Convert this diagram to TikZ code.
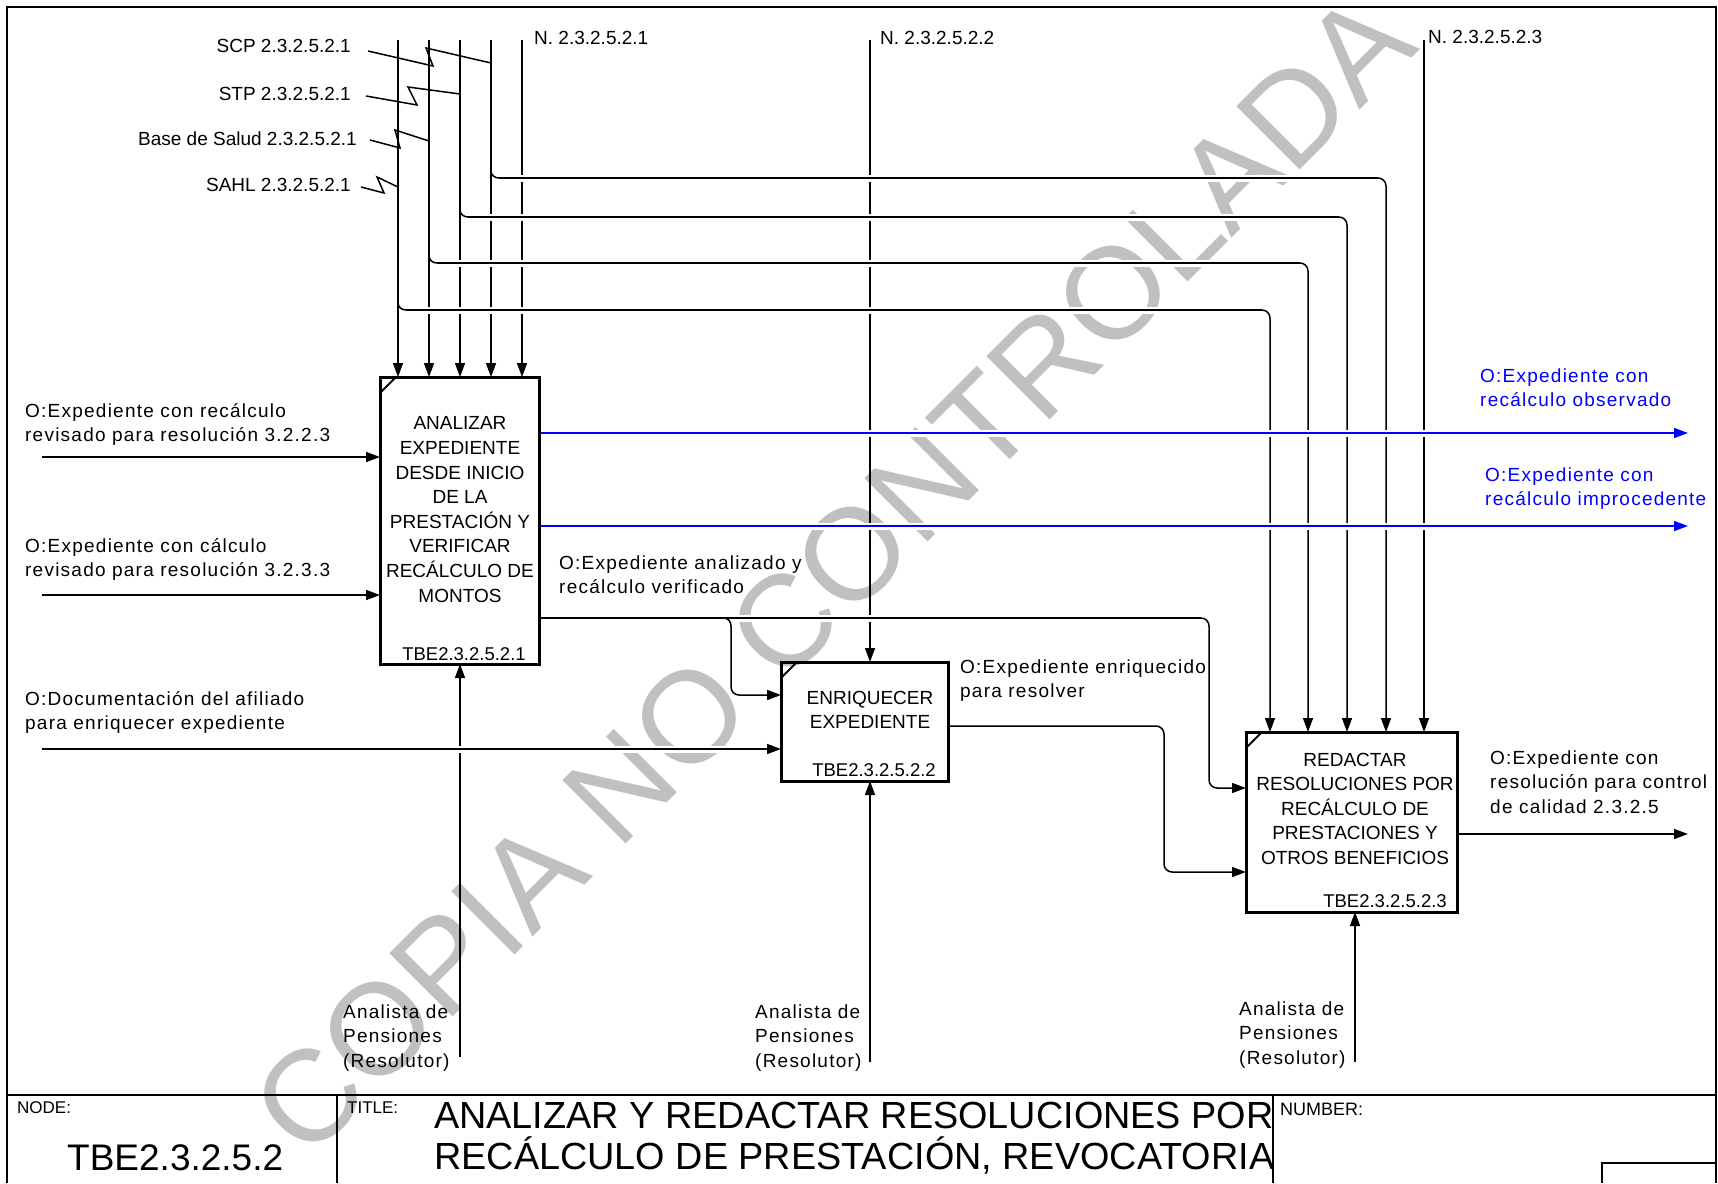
\documentclass[tikz,border=0pt]{standalone}
\usepackage{fontspec}
\setmainfont{Liberation Sans}
\newfontfamily\labfont[LetterSpace=6.5]{Liberation Sans}
\usetikzlibrary{arrows.meta}
\definecolor{wmgray}{RGB}{192,192,192}
\definecolor{idefblue}{RGB}{0,0,255}
\begin{document}
\begin{tikzpicture}[x=1pt,y=-1pt,
  ln/.style={line width=1.5pt},
  arr/.style={line width=1.5pt,-{Triangle[length=14pt,width=10pt]}},
  over/.style={preaction={draw=white,line width=7pt,-}},
  boxshape/.style={rectangle,inner sep=0pt,outer sep=0pt},
  boxline/.style={line width=3pt},
  cornermark/.style={line width=2pt},
  lbl/.style={font=\labfont\fontsize{19}{24.5}\selectfont,inner sep=0pt,align=left,anchor=base west},
  toplbl/.style={font=\fontsize{19}{24.5}\selectfont,inner sep=0pt,anchor=base west},
  toplblr/.style={font=\fontsize{19}{24.5}\selectfont,inner sep=0pt,anchor=base east},
  boxtxt/.style={font=\fontsize{19}{24.6}\selectfont,inner sep=0pt,align=center,anchor=base},
  idtxt/.style={font=\fontsize{18.5}{22}\selectfont,inner sep=0pt,anchor=base},
  wmark/.style={font=\fontsize{130}{130}\selectfont,text=wmgray,inner sep=0pt,rotate=45,anchor=base},
  frameline/.style={line width=2pt},
]
\useasboundingbox (0,0) rectangle (1718,1183);

% watermark
\node[wmark] (wm) at (864,606) {COPIA NO CONTROLADA};

% process boxes (outline drawn at the end)
\node[boxshape,minimum width=159pt,minimum height=287pt] (b1) at (459.5,520.5) {};
\node[boxshape,minimum width=167pt,minimum height=119pt] (b2) at (864.5,721.5) {};
\node[boxshape,minimum width=211pt,minimum height=180pt] (b3) at (1351.5,822) {};

% control lines from top
\coordinate (t1) at (398,40);
\coordinate (t2) at (429,40);
\coordinate (t3) at (460,40);
\coordinate (t4) at (491,40);
\coordinate (t5) at (522,40);
\coordinate (t6) at (870,40);
\coordinate (t7) at (1424,40);
\foreach \c in {t1,t2,t3,t4,t5} \draw[arr] (\c) -- (\c |- b1.north);
\draw[arr] (t6) -- (t6 |- b2.north);
\draw[arr] (t7) -- (t7 |- b3.north);

% branches to box 3
\coordinate (h4a) at (491,171); \coordinate (h4b) at (499,178);
\coordinate (h4c) at (1378,178); \coordinate (h4d) at (1386,186);
\draw[ln] (h4a) to[out=-90,in=180] (h4b);
\draw[ln,over] (h4b) -- (h4c);
\draw[arr] (h4c) to[out=0,in=90] (h4d) -- (h4d |- b3.north);

\coordinate (h3a) at (460,210); \coordinate (h3b) at (468,217);
\coordinate (h3c) at (1339,217); \coordinate (h3d) at (1347,225);
\draw[ln] (h3a) to[out=-90,in=180] (h3b);
\draw[ln,over] (h3b) -- (h3c);
\draw[arr] (h3c) to[out=0,in=90] (h3d) -- (h3d |- b3.north);

\coordinate (h2a) at (429,256); \coordinate (h2b) at (437,263);
\coordinate (h2c) at (1300,263); \coordinate (h2d) at (1308,271);
\draw[ln] (h2a) to[out=-90,in=180] (h2b);
\draw[ln,over] (h2b) -- (h2c);
\draw[arr] (h2c) to[out=0,in=90] (h2d) -- (h2d |- b3.north);

\coordinate (h1a) at (398,303); \coordinate (h1b) at (406,310);
\coordinate (h1c) at (1262,310); \coordinate (h1d) at (1270,318);
\draw[ln] (h1a) to[out=-90,in=180] (h1b);
\draw[ln,over] (h1b) -- (h1c);
\draw[arr] (h1c) to[out=0,in=90] (h1d) -- (h1d |- b3.north);

% blue outputs of box 1
\coordinate (o1e) at (1688,433);
\coordinate (o2e) at (1688,526);
\draw[arr,idefblue,over] (b1.east |- o1e) -- (o1e);
\draw[arr,idefblue,over] (b1.east |- o2e) -- (o2e);

% box1 -> box2 and box3
\coordinate (a1) at (724,618);
\coordinate (a1b) at (731,626);
\coordinate (a1c) at (731,687);
\coordinate (a1d) at (739,695);
\coordinate (a2) at (1201,618);
\coordinate (a2b) at (1209,626);
\coordinate (a2c) at (1209,780);
\coordinate (a2d) at (1217,788);
\draw[ln,over] (b1.east |- a1) -- (a2);
\draw[arr] (a1) to[out=0,in=90] (a1b) -- (a1c) to[out=-90,in=180] (a1d) -- (b2.west |- a1d);
\draw[arr] (a2) to[out=0,in=90] (a2b) -- (a2c) to[out=-90,in=180] (a2d) -- (b3.west |- a2d);

% box2 -> box3
\coordinate (e1) at (1156,726);
\coordinate (e1b) at (1164,734);
\coordinate (e1c) at (1164,864);
\coordinate (e1d) at (1172,872);
\draw[arr] (b2.east |- e1) -- (e1) to[out=0,in=90] (e1b) -- (e1c) to[out=-90,in=180] (e1d) -- (b3.west |- e1d);

% box3 output
\coordinate (o3e) at (1688,834);
\draw[arr] (b3.east |- o3e) -- (o3e);

% mechanisms
\coordinate (m1) at (460,1057);
\coordinate (m2) at (870,1062);
\coordinate (m3) at (1355,1062);
\draw[arr] (m1) -- (m1 |- b1.south);
\draw[arr] (m2) -- (m2 |- b2.south);
\draw[arr] (m3) -- (m3 |- b3.south);

% inputs
\coordinate (i1) at (42,457);
\coordinate (i2) at (42,595);
\coordinate (i3) at (42,749);
\draw[arr] (i1) -- (i1 -| b1.west);
\draw[arr] (i2) -- (i2 -| b1.west);
\draw[arr,over] (i3) -- (i3 -| b2.west);

% squiggles from top labels
\coordinate (s1) at (368,51);
\coordinate (s2) at (366,96);
\coordinate (s3) at (370,140);
\coordinate (s4) at (361,187);
\draw[ln] (s1) -- (433,66) -- (426,48) -- (t4 |- 0,63);
\draw[ln] (s2) -- (417,105) -- (408,87) -- (t3 |- 0,94);
\draw[ln] (s3) -- (400,148) -- (395,130) -- (t2 |- 0,141);
\draw[ln] (s4) -- (384,193) -- (377,177) -- (t1 |- 0,187);

% box outlines
\foreach \b in {b1,b2,b3} {
  \draw[boxline] (\b.north west) rectangle (\b.south east);
  \draw[cornermark] ([yshift=-16pt]\b.north west) -- ([xshift=16pt]\b.north west);
}

% box texts (base anchor = baseline of last line)
\node[boxtxt] (b1t) at (460,602) {ANALIZAR\\EXPEDIENTE\\DESDE INICIO\\DE LA\\PRESTACIÓN Y\\VERIFICAR\\RECÁLCULO DE\\MONTOS};
\node[idtxt] (b1id) at (464,660) {TBE2.3.2.5.2.1};
\node[boxtxt] (b2t) at (870,728.6) {ENRIQUECER\\EXPEDIENTE};
\node[idtxt] (b2id) at (874,776) {TBE2.3.2.5.2.2};
\node[boxtxt] (b3t) at (1355,864.4) {REDACTAR\\RESOLUCIONES POR\\RECÁLCULO DE\\PRESTACIONES Y\\OTROS BENEFICIOS};
\node[idtxt] (b3id) at (1385,907) {TBE2.3.2.5.2.3};

% top labels
\node[toplblr] (l1) at (351,52) {SCP 2.3.2.5.2.1};
\node[toplblr] (l2) at (351,100) {STP 2.3.2.5.2.1};
\node[toplblr] (l3) at (357,145) {Base de Salud 2.3.2.5.2.1};
\node[toplblr] (l4) at (351,191) {SAHL 2.3.2.5.2.1};
\node[toplbl] (n1) at (534,44) {N. 2.3.2.5.2.1};
\node[toplbl] (n2) at (880,44) {N. 2.3.2.5.2.2};
\node[toplbl] (n3) at (1428,43) {N. 2.3.2.5.2.3};

% input labels
\node[lbl] (li1) at (25,441.5) {O:Expediente con recálculo\\revisado para resolución 3.2.2.3};
\node[lbl] (li2) at (25,576.5) {O:Expediente con cálculo\\revisado para resolución 3.2.3.3};
\node[lbl] (li3) at (25,729.5) {O:Documentación del afiliado\\para enriquecer expediente};

% output labels
\node[lbl,text=idefblue] (lo1) at (1480,406.5) {O:Expediente con\\recálculo observado};
\node[lbl,text=idefblue] (lo2) at (1485,505.5) {O:Expediente con\\recálculo improcedente};
\node[lbl] (la) at (559,593.5) {O:Expediente analizado y\\recálculo verificado};
\node[lbl] (le) at (960,697.5) {O:Expediente enriquecido\\para resolver};
\node[lbl] (lo3) at (1490,813) {O:Expediente con\\resolución para control\\de calidad 2.3.2.5};

% mechanism labels
\node[lbl] (lm1) at (343,1067) {Analista de\\Pensiones\\(Resolutor)};
\node[lbl] (lm2) at (755,1067) {Analista de\\Pensiones\\(Resolutor)};
\node[lbl] (lm3) at (1239,1064) {Analista de\\Pensiones\\(Resolutor)};

% frame and title block
\draw[frameline] (7,1183) -- (7,7) -- (1716,7) -- (1716,1183);
\draw[frameline] (7,1095) -- (1716,1095);
\draw[ln] (337,1095) -- (337,1183);
\draw[ln] (1273,1095) -- (1273,1183);
\draw[frameline] (1602,1183) -- (1602,1163) -- (1716,1163);
\node[font=\fontsize{17}{20}\selectfont,inner sep=0pt,anchor=base west] (nodel) at (17,1113) {NODE:};
\node[font=\fontsize{37}{40}\selectfont,inner sep=0pt,anchor=base west] (nodev) at (67,1170) {TBE2.3.2.5.2};
\node[font=\fontsize{17}{20}\selectfont,inner sep=0pt,anchor=base west] (titlel) at (347,1113) {TITLE:};
\node[font=\fontsize{37.8}{41}\selectfont,inner sep=0pt,anchor=base west] (title1) at (434,1128) {ANALIZAR Y REDACTAR RESOLUCIONES POR};
\node[font=\fontsize{37.8}{41}\selectfont,inner sep=0pt,anchor=base west] (title2) at (434,1169) {RECÁLCULO DE PRESTACIÓN, REVOCATORIA};
\node[font=\fontsize{18}{20}\selectfont,inner sep=0pt,anchor=base west] (numl) at (1280,1115) {NUMBER:};
\end{tikzpicture}
\end{document}
